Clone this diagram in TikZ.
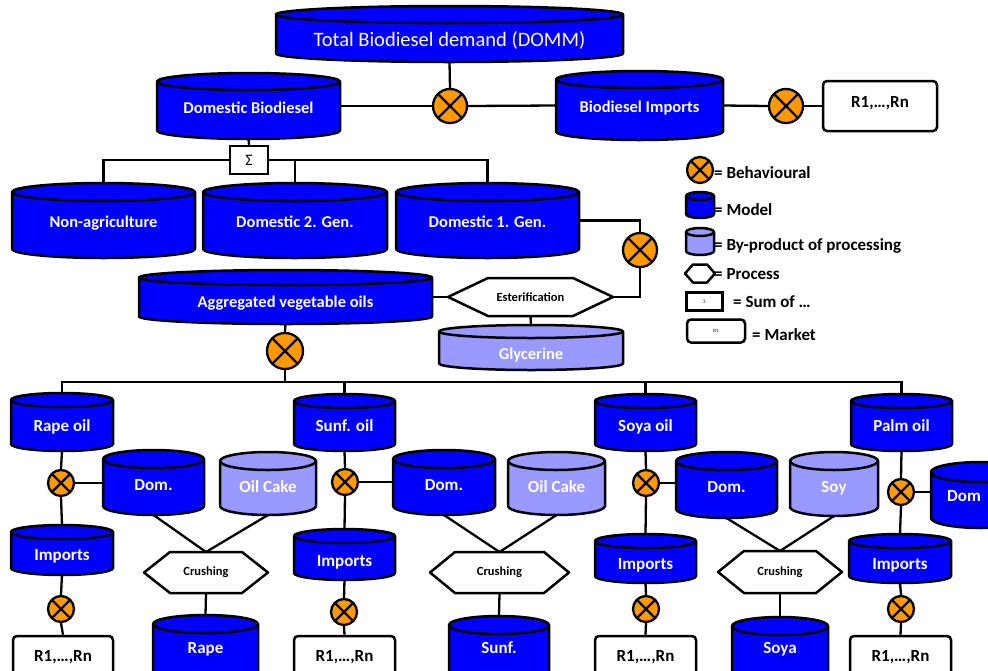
\documentclass[tikz,border=0pt]{standalone}
\usepackage{fontspec}
\setmainfont{Carlito}
\definecolor{mblue}{RGB}{0,0,255}
\definecolor{byprod}{RGB}{153,153,255}
\definecolor{orng}{RGB}{255,153,0}
\newcommand\ftitle{\fontsize{20.5}{22}\selectfont}
\newcommand\fmid{\bfseries\fontsize{16.5}{18}\selectfont}
\newcommand\fbot{\bfseries\fontsize{17}{18}\selectfont}
\newcommand\fsmall{\bfseries\fontsize{12.5}{14}\selectfont}
\newcommand\fleg{\bfseries\fontsize{17}{18}\selectfont}
\tikzset{
  conn/.style={line width=2.3pt, draw=black},
  shp/.style={line width=2.5pt, draw=black, line join=round},
  box0/.style={inner sep=0pt, outer sep=0pt, draw=none, rectangle},
  ctext/.style={inner sep=0pt, text=white, text height=12pt, text depth=0pt},
  beh/.style={circle, draw=black, line width=2.3pt, fill=orng, inner sep=0pt, minimum size=#1,
    path picture={\draw[line width=2.3pt] (path picture bounding box.north west) -- (path picture bounding box.south east)
      (path picture bounding box.north east) -- (path picture bounding box.south west);}},
  beh/.default=26pt,
  market/.style={rectangle, rounded corners=4pt, draw=black, line width=2.5pt, fill=white, inner sep=0pt,
    font=\fbot, text height=7pt, text depth=5pt},
  sumbox/.style={rectangle, draw=black, line width=2.5pt, fill=white, inner sep=0pt},
  legtext/.style={anchor=west, inner sep=0pt, font=\fleg, text height=12pt, text depth=0pt},
}
\def\cry{8}
% name, fill, left, right, top, bottom, text y, text, font
\newcommand{\cyl}[9]{%
  \pgfmathsetmacro\cyCX{(#3+#4)/2}%
  \pgfmathsetmacro\cyRX{(#4-#3)/2}%
  \pgfmathsetmacro\cyCY{(#5+#6)/2}%
  \pgfmathsetlengthmacro\cyW{#4-#3}%
  \pgfmathsetlengthmacro\cyH{#6-#5}%
  \filldraw[shp, fill=#2] (#3,#5+\cry) -- (#3,#6-\cry)
     arc[start angle=180, end angle=360, x radius=\cyRX pt, y radius=\cry pt]
     -- (#4,#5+\cry)
     arc[start angle=0, end angle=180, x radius=\cyRX pt, y radius=\cry pt] -- cycle;
  \draw[shp] (#3,#5+\cry) arc[start angle=180, end angle=360, x radius=\cyRX pt, y radius=\cry pt];
  \node[box0, minimum width=\cyW, minimum height=\cyH] (#1) at (\cyCX,\cyCY) {};
  \node[ctext, font=#9] (#1-t) at (\cyCX,#7) {#8};
}
% name, cx, cy, w, h, slant, text, font
\newcommand{\hexa}[8]{%
  \pgfmathsetmacro\hxL{#2-#4/2}%
  \pgfmathsetmacro\hxR{#2+#4/2}%
  \pgfmathsetmacro\hyT{#3-#5/2}%
  \pgfmathsetmacro\hyB{#3+#5/2}%
  \filldraw[shp, fill=white] (\hxL,#3) -- (\hxL+#6,\hyT) -- (\hxR-#6,\hyT) -- (\hxR,#3)
     -- (\hxR-#6,\hyB) -- (\hxL+#6,\hyB) -- cycle;
  \node[box0, minimum width=#4 pt, minimum height=#5 pt, font=#8] (#1) at (#2,#3) {#7};
}
\begin{document}
\begin{tikzpicture}[x=1pt,y=-1pt]
\useasboundingbox (0,0) rectangle (988,670);
\clip (0,0) rectangle (988,670);

% ---------- top ----------
\def\cry{8.5}
\cyl{total}{mblue}{276}{623}{6}{62}{40}{Total Biodiesel demand (DOMM)}{\ftitle}
\cyl{domb}{mblue}{157}{340}{73}{139}{107}{Domestic Biodiesel}{\fmid}
\cyl{imp}{mblue}{556}{723}{71}{140}{106}{Biodiesel Imports}{\fmid}
\node[beh=34pt] (bT) at (450,106) {};
\node[beh=34pt] (bI) at (786,106) {};
\node[market, minimum width=114pt, minimum height=50pt] (rtop) at (880,106) {R1,…,Rn};
\draw[conn] (total.south) -- (bT.north);
\draw[conn] (domb.east) -- (bT.west);
\draw[conn] (bT.east) -- (imp.west);
\draw[conn] (imp.east) -- (bI.west);
\draw[conn] (bI.east) -- (rtop.west);

\node[sumbox, minimum width=38pt, minimum height=28pt, font=\fontsize{16}{16}\selectfont] (sum) at (249,160) {Σ};
\draw[conn] (domb.south) -- (sum.north);

\def\cry{9}
\cyl{nonag}{mblue}{12}{195}{183}{258}{221}{Non-agriculture}{\fmid}
\cyl{dom2}{mblue}{203}{387}{183}{258}{221}{Domestic 2. Gen.}{\fmid}
\cyl{dom1}{mblue}{396}{579}{183}{258}{221}{Domestic 1. Gen.}{\fmid}
\draw[conn] (nonag.north) |- (sum.west);
\draw[conn] (sum.east) -| (dom1.north);
\draw[conn] (dom2.north) -- (dom2.north |- sum.east);

\node[beh=34pt] (bE) at (640,250) {};
\hexa{est}{530.5}{297}{165}{38}{40}{Esterification}{\fsmall}
\def\cry{6.5}
\cyl{gly}{byprod}{439}{623}{325}{370}{353}{Glycerine}{\fmid}
\def\cry{7.5}
\cyl{agg}{mblue}{139}{432}{270}{324}{301}{Aggregated vegetable oils}{\fmid}
\draw[conn] (dom1.east) -| (bE.north);
\draw[conn] (bE.south) |- (est.east);
\draw[conn] (agg.east) -- (est.west);
\draw[conn] (est.south) -- (gly.north);

\node[beh=36pt] (bA) at (285,351) {};
\draw[conn] (agg.south) -- (bA.north);
\coordinate (split) at (285,382);

% ---------- bottom groups ----------
\def\cry{7}
\cyl{rapeoil}{mblue}{11}{113}{393}{451}{425}{Rape oil}{\fbot}
\cyl{sunfoil}{mblue}{294}{395}{394}{451}{425}{Sunf. oil}{\fbot}
\cyl{soyaoil}{mblue}{595}{696}{394}{451}{425}{Soya oil}{\fbot}
\cyl{palmoil}{mblue}{851}{952}{394}{451}{425}{Palm oil}{\fbot}
\draw[conn] (bA.south) -- (split);
\draw[conn] (rapeoil.north) |- (split) -| (palmoil.north);
\draw[conn] (sunfoil.north) -- (sunfoil.north |- split);
\draw[conn] (soyaoil.north) -- (soyaoil.north |- split);

\def\cry{7}
\cyl{rimp}{mblue}{11}{113}{525}{575}{554}{Imports}{\fbot}
\cyl{simp}{mblue}{294}{395}{529}{580}{560}{Imports}{\fbot}
\cyl{yimp}{mblue}{595}{696}{534}{583}{563}{Imports}{\fbot}
\cyl{pimp}{mblue}{849}{951}{534}{583}{563}{Imports}{\fbot}

\def\cry{9}
\cyl{rdom}{mblue}{103}{204}{450}{515}{484}{Dom.}{\fbot}
\cyl{rcake}{byprod}{220}{316}{452}{515}{486}{Oil Cake}{\fbot}
\cyl{sdom}{mblue}{393}{495}{450}{515}{484}{Dom.}{\fbot}
\cyl{scake}{byprod}{508}{605}{452}{515}{486}{Oil Cake}{\fbot}
\cyl{ydom}{mblue}{676}{777}{452}{518}{486}{Dom.}{\fbot}
\cyl{ysoy}{byprod}{790}{878}{452}{516}{486}{Soy}{\fbot}
\def\cry{10}
\cyl{pdom}{mblue}{931}{1031}{462}{528}{495}{}{\fbot}
\node[ctext, font=\fbot] (pdom-l) at (964,495) {Dom};

\def\cry{9}
\cyl{rape}{mblue}{153}{258}{615}{682}{647}{Rape}{\fbot}
\cyl{sunf}{mblue}{449}{549}{616}{682}{647}{Sunf.}{\fbot}
\cyl{soya}{mblue}{732}{828}{617}{682}{647}{Soya}{\fbot}

\hexa{rhex}{206}{572.5}{124}{41}{26}{Crushing}{\fsmall}
\hexa{shex}{499.5}{572.5}{139}{41}{25}{Crushing}{\fsmall}
\hexa{yhex}{780}{572}{124}{42}{26}{Crushing}{\fsmall}

\node[beh] (b1) at (61,483) {};
\node[beh] (b2) at (345,482) {};
\node[beh] (b3) at (646,483) {};
\node[beh] (b4) at (901,492) {};
\node[beh] (b1i) at (61,609) {};
\node[beh] (b2i) at (344,612) {};
\node[beh] (b3i) at (646,609) {};
\node[beh] (b4i) at (901,609) {};

\node[market, minimum width=100pt, minimum height=48pt] (rr) at (63,660) {R1,…,Rn};
\node[market, minimum width=101pt, minimum height=48pt] (sr) at (344.5,660) {R1,…,Rn};
\node[market, minimum width=101pt, minimum height=48pt] (yr) at (645.5,660) {R1,…,Rn};
\node[market, minimum width=101pt, minimum height=48pt] (pr) at (900.5,660) {R1,…,Rn};

\foreach \o/\b/\i/\bi/\r/\d in {rapeoil/b1/rimp/b1i/rr/rdom, sunfoil/b2/simp/b2i/sr/sdom, soyaoil/b3/yimp/b3i/yr/ydom, palmoil/b4/pimp/b4i/pr/pdom}{
  \draw[conn] (\o.south) -- (\b.north);
  \draw[conn] (\b.south) -- (\i.north);
  \draw[conn] (\i.south) -- (\bi.north);
  \draw[conn] (\bi.south) -- (\r.north);
  \draw[conn] (\b.east) -- (\b.east -| \d.west);
}
\foreach \d/\c/\h/\p in {rdom/rcake/rhex/rape, sdom/scake/shex/sunf, ydom/ysoy/yhex/soya}{
  \draw[conn] (\d.south) -- (\h.north);
  \draw[conn] (\c.south) -- (\h.north);
  \draw[conn] (\h.south) -- (\p.north);
}

% ---------- legend ----------
\node[beh=26pt] (lbeh) at (700,170) {};
\node[legtext] (lbeh-t) at (714,172) {= Behavioural};
\def\cry{4}
\cyl{lmod}{mblue}{686}{714}{192}{218}{205}{}{\fleg}
\node[legtext] (lmod-t) at (714,209) {= Model};
\cyl{lbyp}{byprod}{686}{714}{228}{255}{241}{}{\fleg}
\node[legtext] (lbyp-t) at (714,244) {= By-product of processing};
\hexa{lproc}{700}{273.5}{30}{18}{8}{}{\fleg}
\node[legtext] (lproc-t) at (714,273) {= Process};
\node[sumbox, minimum width=36pt, minimum height=18pt, font=\fontsize{5}{5}\selectfont] (lsum) at (704.5,301.5) {Σ};
\node[legtext] (lsum-t) at (733,301) {= Sum of …};
\node[market, minimum width=58pt, minimum height=23pt, font=\fontsize{5}{5}\selectfont, text height=, text depth=] (lmar) at (716,331) {R1};
\node[legtext] (lmar-t) at (752,334) {= Market};
\end{tikzpicture}
\end{document}
